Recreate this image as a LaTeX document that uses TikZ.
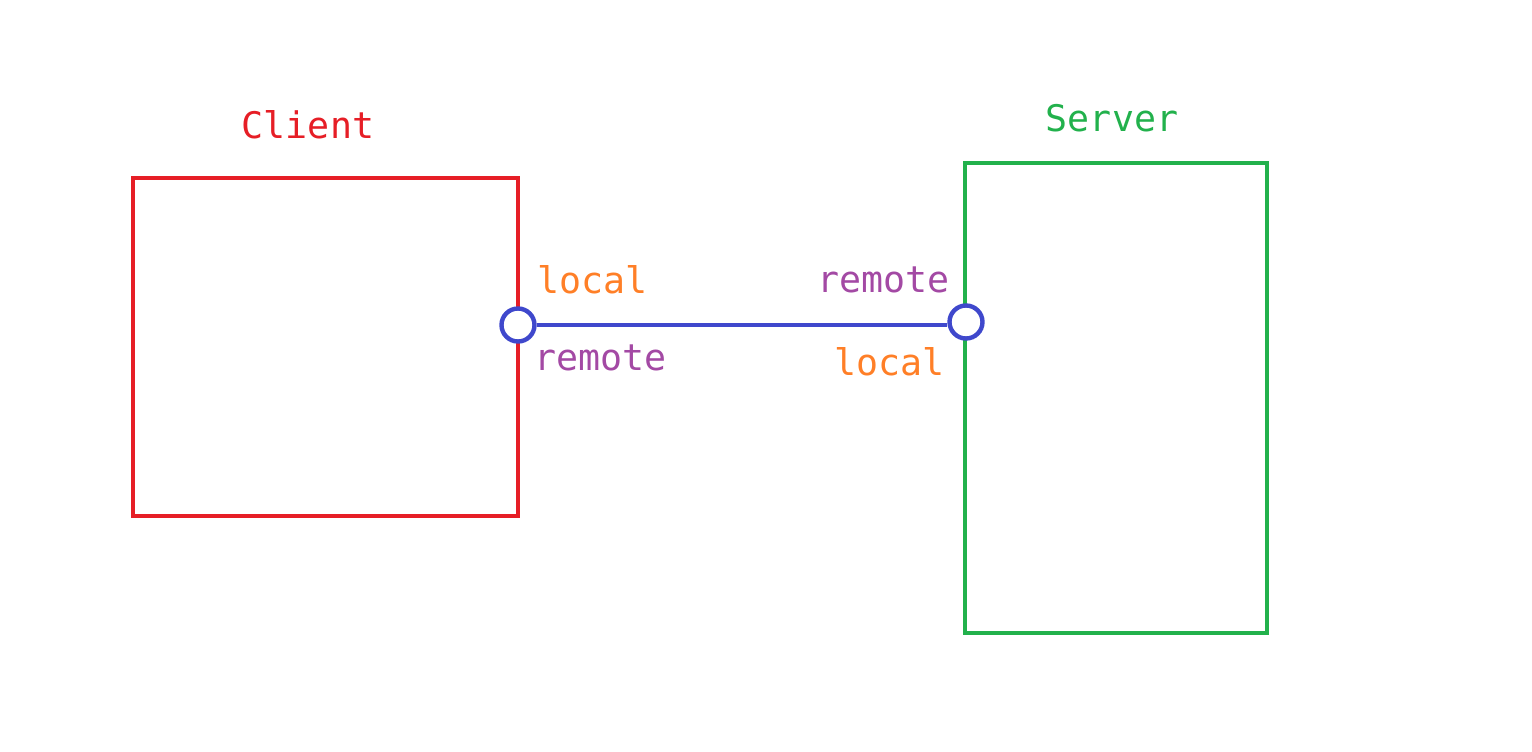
\documentclass[tikz,border=0pt]{standalone}
\usepackage{fontspec}
\setmonofont{DejaVu Sans Mono}
\usetikzlibrary{positioning}
\definecolor{clientred}{RGB}{230,30,38}
\definecolor{servergreen}{RGB}{34,177,76}
\definecolor{linkblue}{RGB}{63,72,204}
\definecolor{localorange}{RGB}{255,127,39}
\definecolor{remotepurple}{RGB}{163,73,164}
\tikzset{
	host/.style = {draw, line width = 2.2pt, inner sep = 0pt, outer sep = 0pt},
	port/.style = {draw = linkblue, fill = white, circle, line width = 2.2pt, minimum size = 16.5pt, inner sep = 0pt},
	lbl/.style = {font = \ttfamily\fontsize{18.3}{21}\selectfont, inner sep = 0pt},
}
\begin{document}
\begin{tikzpicture}[x = 0.5pt, y = -0.5pt]
				\useasboundingbox (0, 0) rectangle (1532, 751);
				\node[host, draw = clientred, minimum width = 192.5pt, minimum height = 169pt] (client) at (325.5, 347) {};
				\node[host, draw = servergreen, minimum width = 151pt, minimum height = 235pt] (server) at (1116, 398) {};
				
				\node[lbl, text = clientred] (clientname) at (308, 125) {Client};
				\node[lbl, text = servergreen] (servername) at (1112, 118) {Server};
				
				\node[port] (cport) at (518, 325) {};
				\node[port] (sport) at (966, 322) {};
				\draw[linkblue, line width = 2.2pt] (cport) -- (sport.west |- cport);
				
				\node[lbl, text = localorange, anchor = west] at (537, 280) {local};
				\node[lbl, text = remotepurple, anchor = west] at (534, 358) {remote};
				\node[lbl, text = remotepurple, anchor = east] at (950, 280) {remote};
				\node[lbl, text = localorange, anchor = east] at (945, 362) {local};
\end{tikzpicture}
\end{document}
